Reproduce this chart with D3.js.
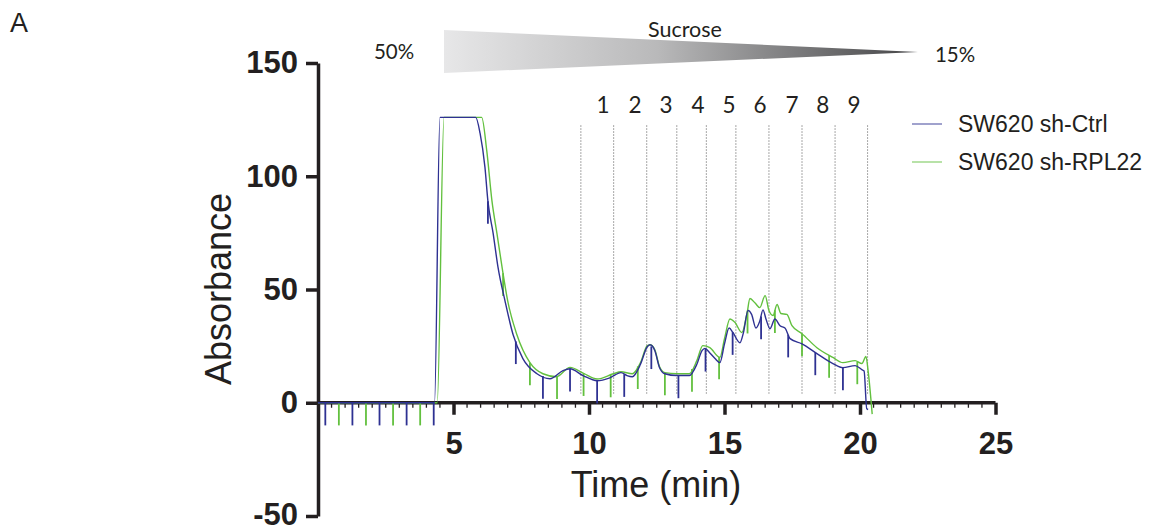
<!DOCTYPE html>
<html>
<head>
<meta charset="utf-8">
<script src="https://cdn.jsdelivr.net/npm/d3@7"></script>
<style>
  body { margin: 0; background: #fff; }
  svg text { fill: #231f20; }
</style>
</head>
<body>
<svg id="chart" width="1149" height="528"></svg>
<script>
// ---- data ----
var ctrlTime = [0, 4.3, 4.5, 5.82, 5.98, 6.16, 6.27, 6.46, 6.64, 6.9, 7.2, 7.56, 8.08, 8.56, 9.04, 9.3, 9.78, 10.3, 10.77, 11.18, 11.4, 11.6, 11.9, 12.14, 12.25, 12.43, 12.6, 12.8, 13.24, 13.7, 13.98, 14.17, 14.28, 14.46, 14.65, 14.83, 15.0, 15.17, 15.31, 15.57, 15.69, 15.87, 16.0, 16.16, 16.3, 16.42, 16.53, 16.68, 16.86, 17.05, 17.23, 17.42, 17.86, 18.41, 19.0, 19.37, 19.82, 20.07, 20.15, 20.25, 20.3];
var ctrlAbs  = [0, 0, 126, 126, 119, 104, 89, 75, 60, 45, 30, 19.5, 12.8, 10.6, 14.2, 15, 12, 9.7, 11, 13.3, 12, 11.5, 17, 24.5, 25.6, 23, 15.6, 12.8, 12, 12, 17, 23, 24, 22, 19.5, 17.7, 26, 33, 31, 26.5, 30.5, 40.7, 39, 33, 36, 41, 37, 32.7, 37, 34, 33, 28.3, 26, 21.7, 17.3, 15.5, 16.4, 14.6, 14, -2.7, -3];

var rplTime = [0, 4.4, 4.65, 6.04, 6.23, 6.42, 6.6, 6.79, 7.0, 7.34, 7.82, 8.3, 8.8, 9.3, 9.8, 10.3, 10.9, 11.18, 11.6, 11.9, 12.14, 12.25, 12.43, 12.6, 12.8, 13.24, 13.7, 13.98, 14.2, 14.46, 14.83, 15.0, 15.2, 15.39, 15.64, 15.83, 15.94, 16.13, 16.3, 16.5, 16.64, 16.79, 16.94, 17.08, 17.3, 17.49, 17.86, 18.41, 19.0, 19.37, 19.82, 20.07, 20.22, 20.3, 20.45];
var rplAbs  = [0, 0, 126, 126, 111, 89, 75, 60, 45, 30, 17.7, 12.8, 11.5, 15.6, 13, 10.5, 12.8, 13.7, 12.8, 17.7, 25, 25.6, 23.4, 16, 13.3, 12.8, 12.8, 18.6, 25.2, 24.3, 20, 28.3, 37, 35.4, 31, 39.4, 46, 44, 42, 47.3, 40.7, 38.5, 43.4, 39.4, 39, 34, 30.5, 24.3, 20, 17.7, 18.6, 17.3, 20.4, 14, -5];

// fraction collector marks (min)
var ctrlMarks = [0.27, 1.27, 2.27, 3.27, 4.27, 6.27, 7.3, 8.3, 9.3, 10.3, 11.3, 12.3, 13.3, 14.3, 15.3, 16.35, 17.35, 18.35, 19.37];
var rplMarks  = [0.77, 1.77, 2.77, 3.77, 6.83, 7.82, 8.82, 9.8, 10.8, 11.8, 12.8, 13.8, 14.8, 15.85, 16.86, 17.86, 18.86, 19.9];
var markDepth = 10;

// fraction boundaries and labels
var fractionEdges  = [9.7, 10.91, 12.13, 13.24, 14.33, 15.42, 16.64, 17.86, 19.08, 20.28];
var fractionLabels = ["1", "2", "3", "4", "5", "6", "7", "8", "9"];
var fractionCenters = [10.52, 11.7, 12.84, 14.02, 15.17, 16.31, 17.49, 18.63, 19.78];

var seriesNames = ["SW620 sh-Ctrl", "SW620 sh-RPL22"];
var xTicks = [5, 10, 15, 20, 25];
var yTicks = [-50, 0, 50, 100, 150];

// ---- setup ----
var blue = "#2e3192", green = "#62c03e", ink = "#231f20";
var svg = d3.select("#chart");
var x = d3.scaleLinear().domain([0, 25]).range([318, 995.5]);
var y = d3.scaleLinear().domain([-50, 150]).range([516, 63]);

// sucrose gradient wedge
var defs = svg.append("defs");
var grad = defs.append("linearGradient").attr("id", "suc").attr("x1", "0").attr("x2", "1");
grad.append("stop").attr("offset", "0").attr("stop-color", "#e7e7e8");
grad.append("stop").attr("offset", "0.45").attr("stop-color", "#b9b9ba");
grad.append("stop").attr("offset", "1").attr("stop-color", "#454547");
svg.append("polygon").attr("points", "444,30 444,73 918,52").attr("fill", "url(#suc)");

var calib = "Lato, 'Open Sans', sans-serif";
svg.append("text").attr("x", 394).attr("y", 59).attr("text-anchor", "middle")
  .style("font-family", calib).style("font-size", "20.5px").text("50%");
svg.append("text").attr("x", 955).attr("y", 62).attr("text-anchor", "middle")
  .style("font-family", calib).style("font-size", "20.5px").text("15%");
svg.append("text").attr("x", 685).attr("y", 37).attr("text-anchor", "middle")
  .style("font-family", calib).style("font-size", "21.5px").text("Sucrose");

svg.append("text").attr("x", 10).attr("y", 32)
  .style("font-family", "'Liberation Sans', Arial, sans-serif").style("font-size", "27px").text("A");

// fraction dotted lines + numbers
svg.append("g").selectAll("line").data(fractionEdges).enter().append("line")
  .attr("x1", d => x(d)).attr("x2", d => x(d))
  .attr("y1", y(122.5)).attr("y2", y(4))
  .attr("stroke", "#8a8a8a").attr("stroke-width", 1).attr("stroke-dasharray", "1.5,1.5");

svg.append("g").selectAll("text").data(fractionLabels).enter().append("text")
  .attr("x", (d, i) => x(fractionCenters[i])).attr("y", 113)
  .attr("text-anchor", "middle")
  .style("font-family", calib).style("font-size", "22.5px").text(d => d);

// ---- axes ----
var boldFont = "'Liberation Sans', Arial, sans-serif";

var yAxis = svg.append("g").attr("transform", "translate(" + x(0) + ",0)")
  .call(d3.axisLeft(y).tickValues(yTicks).tickFormat(d => String(d))
    .tickSize(12).tickSizeOuter(0).tickPadding(8));

// minor x ticks every half minute
var minor = d3.range(0.5, 25, 0.5).filter(d => d % 5 !== 0);
svg.append("g").selectAll("line").data(minor).enter().append("line")
  .attr("x1", d => x(d)).attr("x2", d => x(d))
  .attr("y1", y(0)).attr("y2", y(0) + 5)
  .attr("stroke", ink).attr("stroke-width", 1.3);

var xAxis = svg.append("g").attr("transform", "translate(0," + y(0) + ")")
  .call(d3.axisBottom(x).tickValues(xTicks).tickFormat(d => String(d))
    .tickSize(12).tickSizeOuter(0));
// x axis line starts at the y axis
xAxis.select(".domain").attr("d", "M" + x(0) + ",0H" + x(25));

[xAxis, yAxis].forEach(function (g) {
  g.select(".domain").attr("stroke", ink).attr("stroke-width", 3.5);
  g.selectAll(".tick line").attr("stroke", ink).attr("stroke-width", 3.5);
  g.selectAll(".tick text").attr("fill", ink)
    .style("font-family", boldFont).style("font-weight", "bold").style("font-size", "31px");
});
xAxis.selectAll(".tick text").attr("dy", 0).attr("y", 51);
// keep the bottom label inside the frame
yAxis.selectAll(".tick text").filter(d => d === -50).attr("dy", "0.26em");

svg.append("text").attr("x", 656).attr("y", 497).attr("text-anchor", "middle")
  .style("font-family", boldFont).style("font-size", "36px").text("Time (min)");
svg.append("text").attr("transform", "translate(231,289) rotate(-90)").attr("text-anchor", "middle")
  .style("font-family", boldFont).style("font-size", "36px").text("Absorbance");

// ---- traces ----
var line = d3.line().x(d => x(d[0])).y(d => y(d[1])).curve(d3.curveMonotoneX);
var ctrl = d3.zip(ctrlTime, ctrlAbs), rpl = d3.zip(rplTime, rplAbs);

function valueAt(times, vals, t) {
  var i = d3.bisectLeft(times, t);
  if (i <= 0) return vals[0];
  if (i >= times.length) return vals[vals.length - 1];
  var f = (t - times[i - 1]) / (times[i] - times[i - 1]);
  return vals[i - 1] + f * (vals[i] - vals[i - 1]);
}

function drawMarks(marks, times, vals, color) {
  svg.append("g").selectAll("line").data(marks).enter().append("line")
    .attr("x1", d => x(d)).attr("x2", d => x(d))
    .attr("y1", d => y(valueAt(times, vals, d)))
    .attr("y2", d => y(valueAt(times, vals, d) - markDepth))
    .attr("stroke", color).attr("stroke-width", 1.8);
}

svg.append("path").datum(rpl).attr("d", line)
  .attr("fill", "none").attr("stroke", green).attr("stroke-width", 1.4);
drawMarks(rplMarks, rplTime, rplAbs, green);
svg.append("path").datum(ctrl).attr("d", line)
  .attr("fill", "none").attr("stroke", blue).attr("stroke-width", 1.4);
drawMarks(ctrlMarks, ctrlTime, ctrlAbs, blue);

// ---- legend ----
var legend = svg.append("g").attr("transform", "translate(912,124)");
[blue, green].forEach(function (c, i) {
  legend.append("line").attr("x1", 0).attr("x2", 30).attr("y1", i * 38).attr("y2", i * 38)
    .attr("stroke", c).attr("stroke-width", 1.2).attr("opacity", 0.75);
  legend.append("text").attr("x", 46).attr("y", i * 38 + 8)
    .style("font-family", boldFont).style("font-size", "23px").text(seriesNames[i]);
});
</script>
</body>
</html>
